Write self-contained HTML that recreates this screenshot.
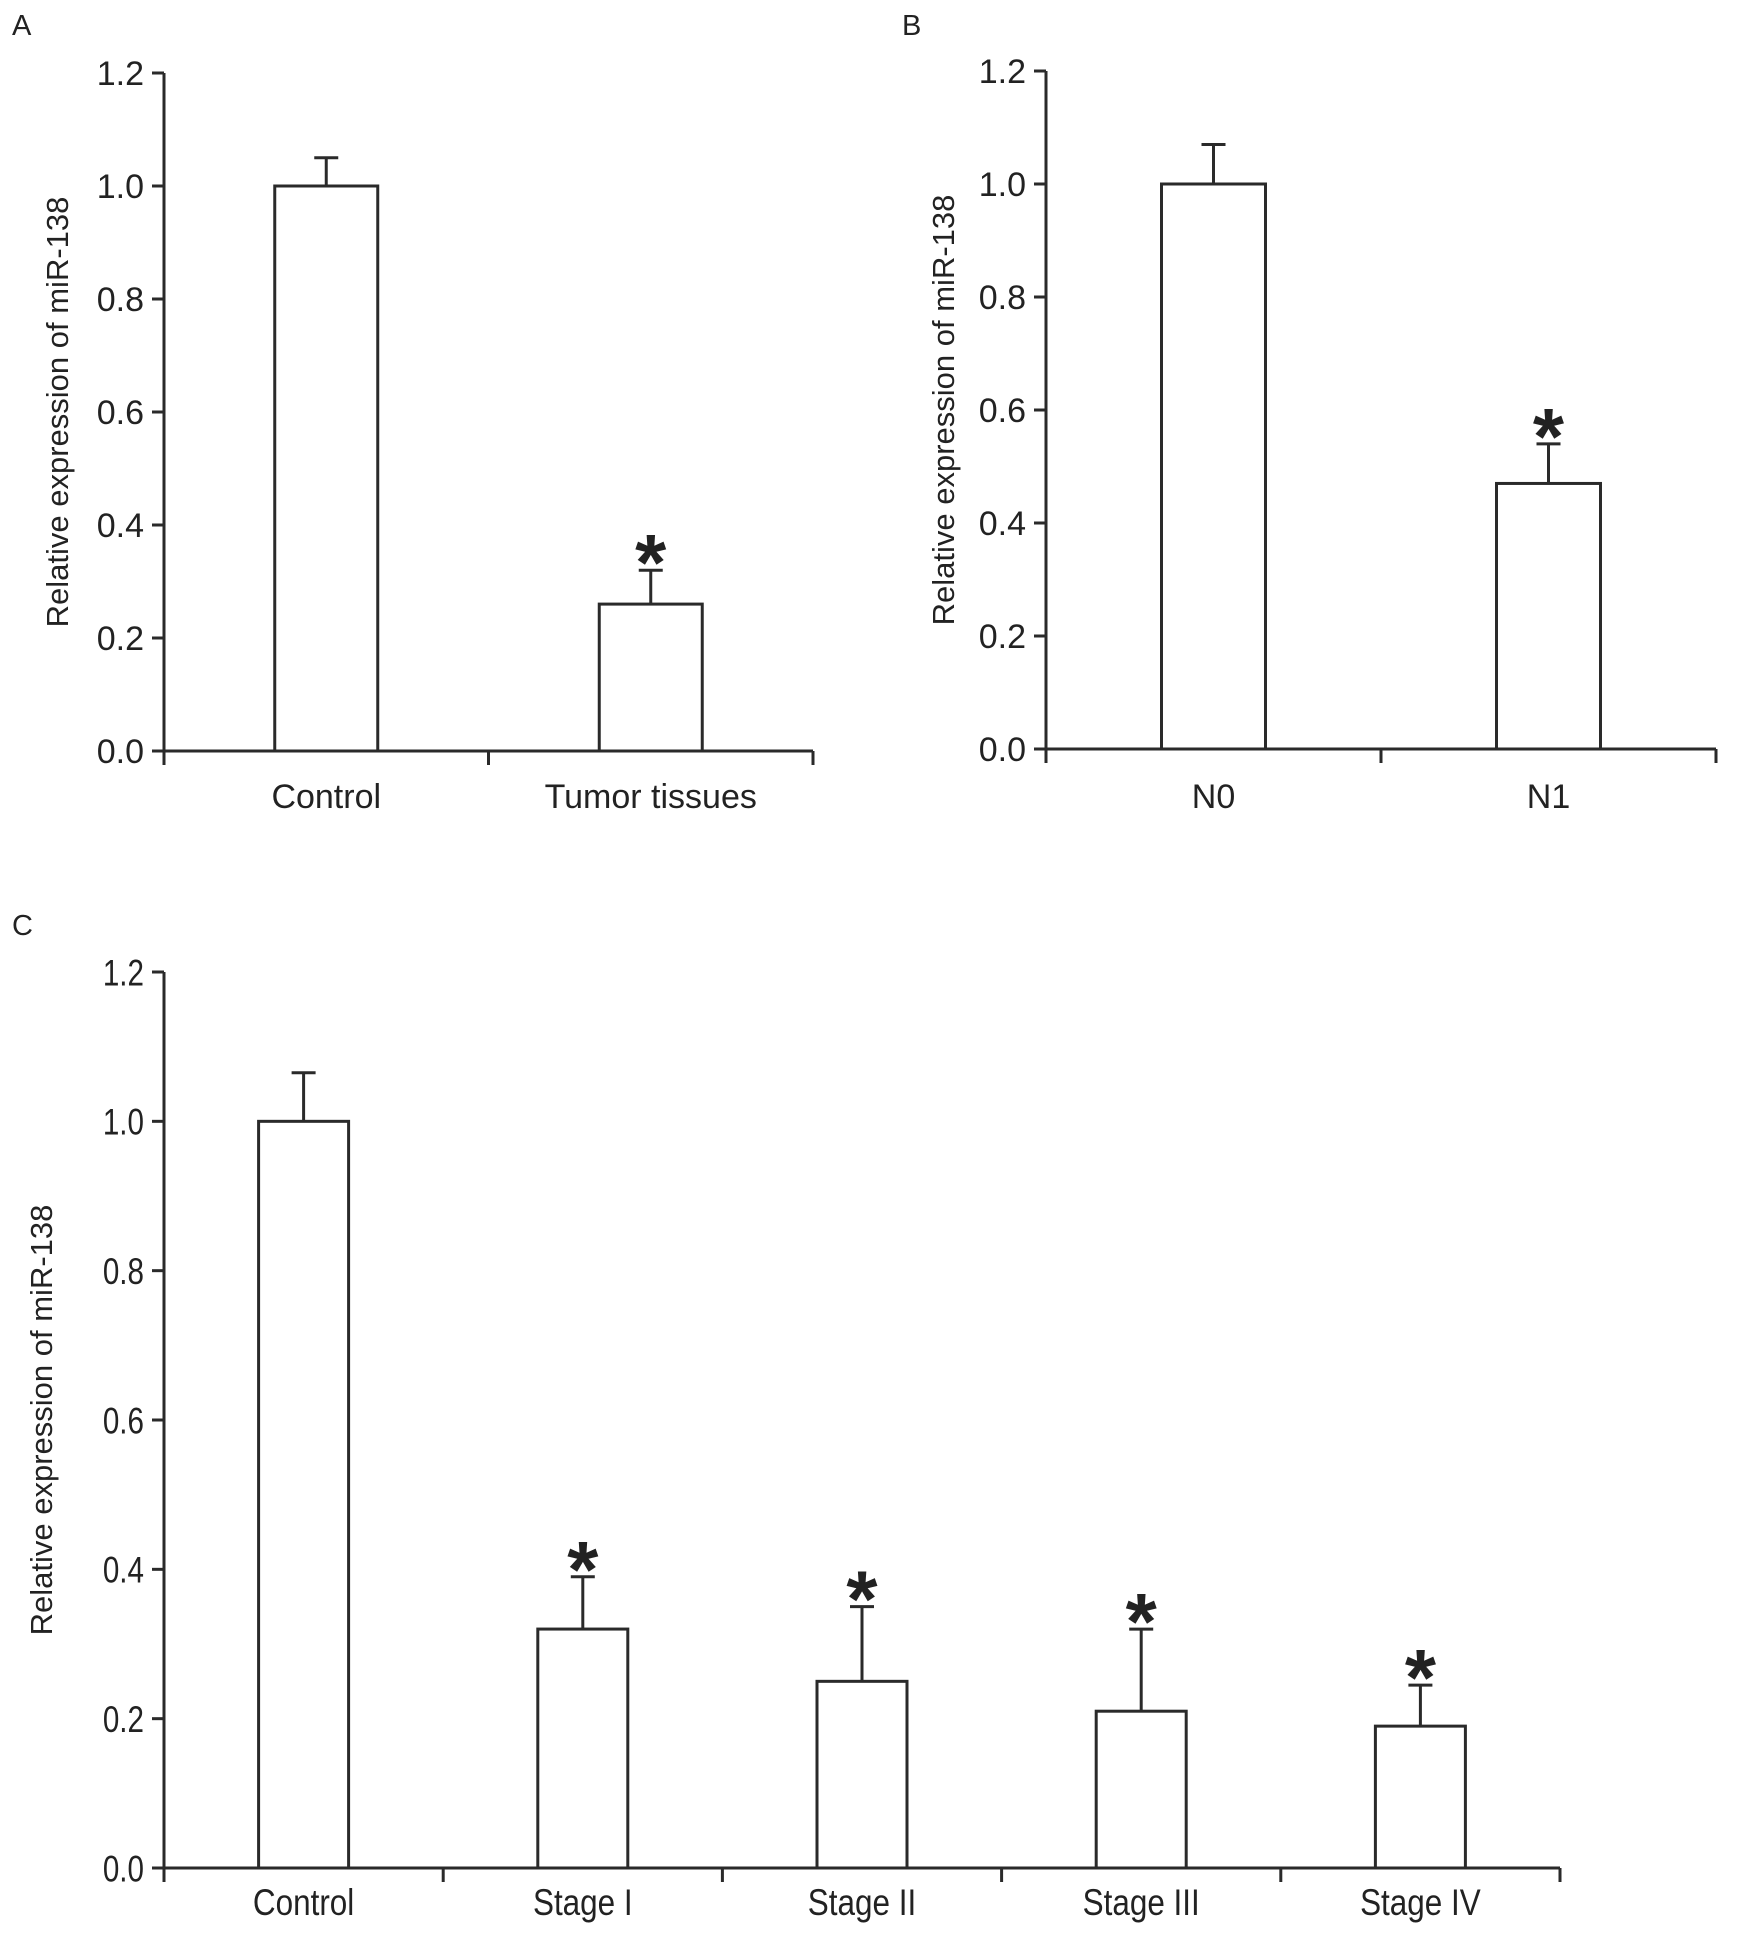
<!DOCTYPE html>
<html><head><meta charset="utf-8"><style>
html,body{margin:0;padding:0;background:#fff}
svg{display:block}
text{font-family:"Liberation Sans",Arial,sans-serif;fill:#222}
</style></head><body>
<svg id="fig" width="1737" height="1938" viewBox="0 0 1737 1938" xmlns="http://www.w3.org/2000/svg"></svg>
<script>
const catsA=["Control","Tumor tissues"];
const valsA=[1.0,0.26];
const errA=[0.05,0.06];
const starA=[false,true];
const catsB=["N0","N1"];
const valsB=[1.0,0.47];
const errB=[0.07,0.07];
const starB=[false,true];
const catsC=["Control","Stage I","Stage II","Stage III","Stage IV"];
const valsC=[1.0,0.32,0.25,0.21,0.19];
const errC=[0.065,0.07,0.10,0.11,0.055];
const starC=[false,true,true,true,true];
const yTicks=["0.0","0.2","0.4","0.6","0.8","1.0","1.2"];
const yTickVals=[0,0.2,0.4,0.6,0.8,1.0,1.2];

const NS="http://www.w3.org/2000/svg";
const svg=document.getElementById('fig');
function mk(tag,attrs,parent){const e=document.createElementNS(NS,tag);for(const k in attrs)e.setAttribute(k,attrs[k]);(parent||svg).appendChild(e);return e;}

function panel(cfg){
  const g=mk('g',{});
  
  
  const y=v=>cfg.y0-(v/1.2)*(cfg.y0-cfg.yTop);
  const n=cfg.cats.length;
  const step=(cfg.xEnd-cfg.x0)/n;
  const xc=i=>cfg.x0+step*(i+0.5);
  const st={stroke:'#2a2a2a','stroke-width':3,fill:'none'};
  const ya=mk('line',Object.assign({x1:cfg.x0,y1:cfg.yTop,x2:cfg.x0,y2:cfg.y0},st),g);
  
  
  yTickVals.forEach((v,i)=>{
    const t=mk('line',Object.assign({x1:cfg.x0-12,y1:y(v),x2:cfg.x0,y2:y(v)},st),g);
    
    
    const l=mk('text',{x:cfg.x0-20,y:y(v)+cfg.fs*0.36,'text-anchor':'end','font-size':cfg.fs},g);
    
    
    if(cfg.condensed)l.setAttribute('transform',`translate(${cfg.x0-20},0) scale(0.8,1) translate(${-(cfg.x0-20)},0)`);
    l.textContent=yTicks[i];
  });
  const xa=mk('line',Object.assign({x1:cfg.x0,y1:cfg.y0,x2:cfg.xEnd,y2:cfg.y0},st),g);
  
  
  for(let i=0;i<=n;i++){
    const t=mk('line',Object.assign({x1:cfg.x0+step*i,y1:cfg.y0,x2:cfg.x0+step*i,y2:cfg.y0+14},st),g);
    
    
  }
  cfg.cats.forEach((c,i)=>{
    const cx=xc(i);
    const top=y(cfg.vals[i]);
    const et=y(cfg.vals[i]+cfg.err[i]);
    const e=mk('line',Object.assign({x1:cx,y1:top,x2:cx,y2:et},st),g);
    
    
    const cap=mk('line',Object.assign({x1:cx-12,y1:et,x2:cx+12,y2:et},st),g);
    
    
    const b=mk('rect',{x:cx-cfg.bw/2,y:top,width:cfg.bw,height:cfg.y0-top,fill:'#fff',stroke:'#2a2a2a','stroke-width':3},g);
    
    
    if(cfg.star[i]){
      const s=mk('text',{x:cx,y:et+20,'text-anchor':'middle','font-size':80,'font-weight':'bold',fill:'#000'},g);
      
      
      s.textContent='*';
    }
    const l=mk('text',{x:cx,y:cfg.labY,'text-anchor':'middle','font-size':cfg.fs},g);
    
    
    if(cfg.condensed)l.setAttribute('transform',`translate(${cx},0) scale(0.85,1) translate(${-cx},0)`);
    l.textContent=c;
  });
  const ty=(cfg.yTop+cfg.y0)/2;
  const tt=mk('text',{x:cfg.titleX,y:ty,'text-anchor':'middle','font-size':cfg.tfs,transform:`rotate(-90 ${cfg.titleX} ${ty})`},g);
  
  
  tt.textContent='Relative expression of miR-138';
  const pl=mk('text',{x:cfg.px,y:cfg.py,'font-size':29},g);
  
  
  pl.textContent=cfg.letter;
}
panel({name:'panel-a',letter:'A',px:12,py:35,cats:catsA,vals:valsA,err:errA,star:starA,x0:164,xEnd:813,yTop:73,y0:751,bw:103,fs:34,tfs:31,labY:808,titleX:68});
panel({name:'panel-b',letter:'B',px:902,py:35,cats:catsB,vals:valsB,err:errB,star:starB,x0:1046,xEnd:1716,yTop:71,y0:749,bw:104,fs:34,tfs:31,labY:808,titleX:954});
panel({name:'panel-c',letter:'C',px:12,py:935,cats:catsC,vals:valsC,err:errC,star:starC,x0:164,xEnd:1560,yTop:972,y0:1868,bw:90,fs:37,tfs:31,labY:1915,titleX:52,condensed:true});
</script>
</body></html>
